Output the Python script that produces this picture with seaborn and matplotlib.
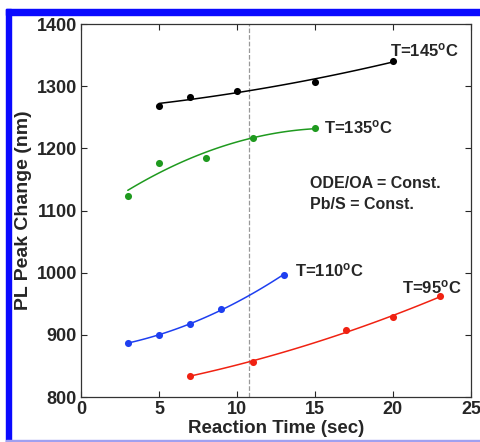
import numpy as np
import pandas as pd
import matplotlib
matplotlib.use('Agg')
import matplotlib.pyplot as plt
import seaborn as sns
from matplotlib.patches import Rectangle

# data
t_145 = [5, 7, 10, 15, 20]
pl_145 = [1268, 1283, 1293, 1306, 1341]
t_135 = [3, 5, 8, 11, 15]
pl_135 = [1124, 1177, 1185, 1216, 1233]
t_110 = [3, 5, 7, 9, 13]
pl_110 = [887, 900, 917, 941, 997]
t_95 = [7, 11, 17, 20, 23]
pl_95 = [834, 857, 907, 928, 962]

series_labels = ['T=145$^{\\mathrm{o}}$C', 'T=135$^{\\mathrm{o}}$C',
                 'T=110$^{\\mathrm{o}}$C', 'T=95$^{\\mathrm{o}}$C']
series_colors = ['black', '#1f9a1f', '#1e3ff0', '#f02212']
note_lines = ['ODE/OA = Const.', 'Pb/S = Const.']
cut_time = 10.8

sns.set_style('ticks')
plt.rcParams['font.family'] = ['Liberation Sans', 'DejaVu Sans']
plt.rcParams['mathtext.fontset'] = 'custom'
plt.rcParams['mathtext.rm'] = 'Liberation Sans:bold'
plt.rcParams['mathtext.it'] = 'Liberation Sans:bold'
plt.rcParams['mathtext.bf'] = 'Liberation Sans:bold'

fig = plt.figure(figsize=(4.81, 4.42), dpi=100)
ax = fig.add_axes([0.1684, 0.1018, 0.8106, 0.8439])

all_t = [t_145, t_135, t_110, t_95]
all_pl = [pl_145, pl_135, pl_110, pl_95]
for t, pl, c in zip(all_t, all_pl, series_colors):
    df = pd.DataFrame({'t': t, 'pl': pl})
    sns.regplot(data=df, x='t', y='pl', order=2, ci=None, ax=ax, color=c,
                scatter_kws={'s': 26, 'linewidths': 0, 'alpha': 1},
                line_kws={'lw': 1.1})

ax.axvline(cut_time, color='#999999', ls='--', lw=0.9, zorder=0)

# curve labels
label_pos = [(19.8, 1358), (15.6, 1234), (13.7, 1004), (20.6, 977)]
for (x, y), lab in zip(label_pos, series_labels):
    ax.text(x, y, lab, fontsize=12, fontweight='bold', va='center', ha='left')
ax.text(14.7, 1143, note_lines[0], fontsize=11.5, fontweight='bold', va='center')
ax.text(14.7, 1109, note_lines[1], fontsize=11.5, fontweight='bold', va='center')

ax.set_xlim(0, 25)
ax.set_ylim(800, 1400)
ax.set_xticks([0, 5, 10, 15, 20, 25])
ax.set_yticks([800, 900, 1000, 1100, 1200, 1300, 1400])
ax.tick_params(direction='in', top=True, right=True, length=4, width=0.8,
               labelsize=13, pad=3)
for lab in ax.get_xticklabels() + ax.get_yticklabels():
    lab.set_fontweight('bold')
ax.set_xlabel('Reaction Time (sec)', fontsize=13.5, fontweight='bold', labelpad=1)
ax.set_ylabel('PL Peak Change (nm)', fontsize=14, fontweight='bold', labelpad=3)
for s in ax.spines.values():
    s.set_linewidth(0.9)
    s.set_color('#333333')

# blue frame around the figure
fig.patches.append(Rectangle((6 / 481, 1 - 15 / 442), 1, 6 / 442,
                             transform=fig.transFigure, color='#0a0aff', zorder=5))
fig.patches.append(Rectangle((6 / 481, 0), 5 / 481, 1 - 9 / 442,
                             transform=fig.transFigure, color='#0a0aff', zorder=5))
fig.patches.append(Rectangle((6 / 481, 0), 1, 2 / 442,
                             transform=fig.transFigure, color='#a0a0f0', zorder=5))

fig.savefig('out.png', dpi=100)
